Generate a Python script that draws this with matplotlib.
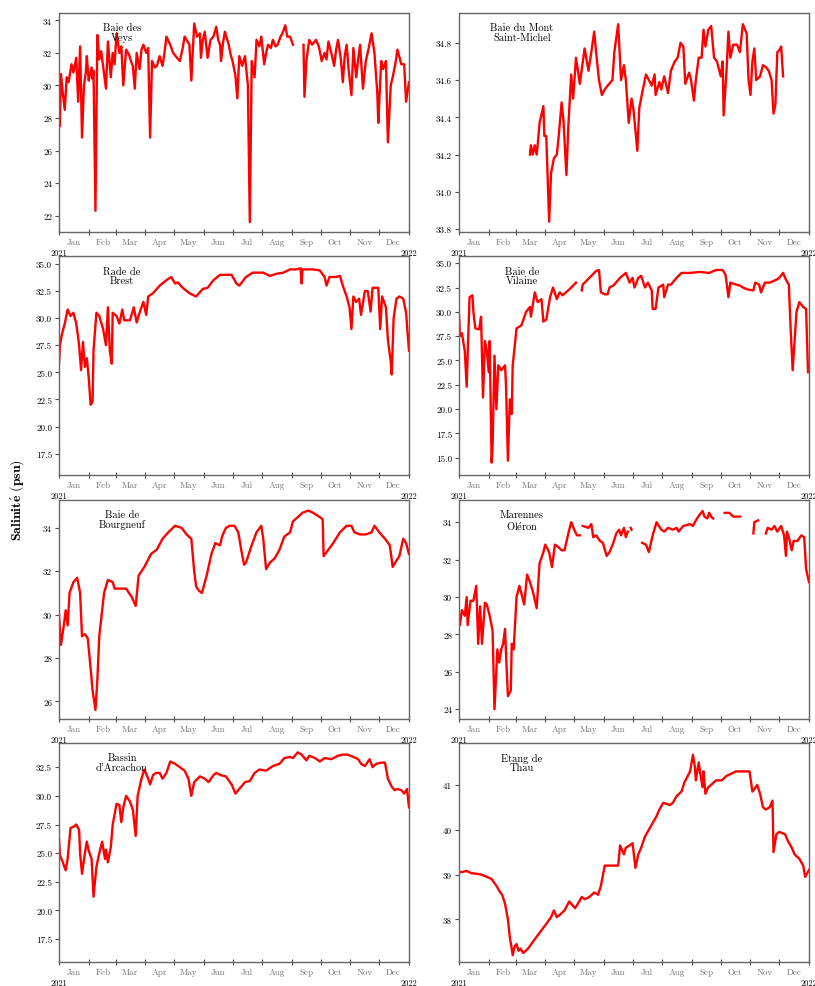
import numpy as np
import matplotlib
matplotlib.use("Agg")
import matplotlib.pyplot as plt
import matplotlib.dates as mdates
from matplotlib.ticker import MultipleLocator, FormatStrFormatter, FuncFormatter

plt.rcParams["font.family"] = ["cmr10", "DejaVu Serif"]
plt.rcParams["mathtext.fontset"] = "cm"
plt.rcParams["axes.formatter.use_mathtext"] = True

nan = np.nan

# (jour de l'annee depuis le 1er janvier 2021, salinite en psu)
veys = [(0, 29.5), (1, 27.5), (2, 30.7), (4, 29.5), (6, 28.5), (8, 30.5), (10, 30.2), (13, 31.3), (15, 30.8),
        (18, 31.7), (20, 29.0), (22, 32.4), (24, 26.8), (26, 30.0), (28, 30.8), (29, 31.8), (31, 30.3),
        (32, 30.6), (34, 31.1), (35, 30.4), (36, 30.9), (38, 22.3), (40, 33.1), (42, 31.6), (44, 32.1),
        (46, 31.2), (49, 29.8), (51, 32.7), (54, 30.5), (56, 32.0), (58, 31.3), (60, 33.2), (63, 32.0),
        (65, 32.4), (67, 30.0), (70, 32.2), (73, 31.9), (75, 31.5), (77, 31.2), (79, 29.8), (81, 32.0),
        (84, 31.0), (86, 32.2), (88, 32.5), (91, 32.0), (93, 32.3), (95, 26.8), (97, 31.5), (100, 31.1),
        (102, 31.2), (105, 31.8), (108, 31.2), (110, 32.0), (112, 33.0), (116, 32.5), (119, 32.0),
        (123, 31.7), (126, 31.5), (129, 32.3), (131, 33.0), (134, 32.7), (136, 32.5), (138, 30.3),
        (141, 33.8), (144, 33.0), (147, 33.2), (148, 31.7), (150, 32.8), (152, 33.3), (155, 31.7),
        (158, 32.8), (161, 33.0), (164, 33.6), (166, 32.8), (168, 32.5), (169, 31.5), (171, 32.6),
        (173, 33.3), (177, 32.5), (179, 31.9), (181, 31.5), (184, 30.6), (186, 29.2), (188, 31.8),
        (191, 31.2), (194, 31.8), (197, 30.0), (199, 21.6), (201, 31.5), (204, 30.5), (206, 32.8),
        (209, 32.4), (211, 33.0), (214, 31.3), (216, 32.0), (218, 32.5), (221, 32.3), (223, 32.8),
        (226, 32.4), (228, 32.5), (231, 33.0), (233, 33.2), (236, 33.7), (238, 33.0), (241, 33.0),
        (244, 32.5), (245, nan), (255, 32.5), (256, 29.3), (258, 31.5), (261, 32.8), (264, 32.5),
        (268, 32.8), (271, 32.4), (274, 31.5), (277, 32.0), (279, 31.6), (281, 32.7), (284, 32.0),
        (287, 31.2), (289, 32.2), (291, 32.8), (294, 31.6), (296, 30.2), (298, 31.8), (300, 32.5),
        (302, 31.0), (305, 29.4), (307, 32.3), (310, 30.5), (312, 31.6), (314, 32.5), (317, 29.8),
        (320, 31.5), (323, 32.3), (326, 33.2), (329, 32.0), (332, 29.5), (333, 27.7), (336, 31.5),
        (338, 31.0), (341, 31.5), (343, 26.5), (346, 30.0), (348, 30.5), (351, 31.4), (353, 32.2),
        (357, 31.3), (360, 31.3), (362, 29.0), (365, 30.2)]

mont_st_michel = [(74, 34.20), (75, 34.25), (77, 34.20), (79, 34.25), (81, 34.20), (82, 34.25), (84, 34.37),
                  (88, 34.46), (89, 34.30), (91, 34.30), (94, 33.84), (96, 34.10), (99, 34.18), (102, 34.20),
                  (104, 34.30), (107, 34.48), (109, 34.38), (112, 34.09), (114, 34.35), (117, 34.63),
                  (119, 34.50), (122, 34.72), (126, 34.58), (131, 34.77), (135, 34.65), (138, 34.75),
                  (141, 34.86), (143, 34.75), (146, 34.60), (149, 34.52), (152, 34.55), (155, 34.57),
                  (160, 34.60), (162, 34.75), (166, 34.90), (169, 34.60), (172, 34.68), (174, 34.60),
                  (177, 34.37), (180, 34.50), (182, 34.44), (186, 34.22), (188, 34.45), (191, 34.53),
                  (195, 34.63), (198, 34.60), (201, 34.57), (204, 34.63), (205, 34.52), (209, 34.59),
                  (211, 34.55), (214, 34.62), (218, 34.53), (221, 34.65), (225, 34.70), (228, 34.72),
                  (231, 34.80), (234, 34.78), (236, 34.58), (240, 34.64), (242, 34.60), (245, 34.49),
                  (247, 34.60), (250, 34.72), (253, 34.72), (255, 34.87), (257, 34.78), (260, 34.87),
                  (263, 34.89), (266, 34.72), (269, 34.70), (273, 34.62), (275, 34.70), (276, 34.41),
                  (279, 34.65), (281, 34.86), (283, 34.72), (286, 34.79), (290, 34.79), (293, 34.75),
                  (296, 34.90), (300, 34.85), (302, 34.60), (304, 34.52), (306, 34.70), (308, 34.77),
                  (310, 34.60), (314, 34.62), (317, 34.68), (320, 34.67), (323, 34.65), (326, 34.60),
                  (328, 34.42), (330, 34.47), (332, 34.75), (334, 34.76), (336, 34.78), (338, 34.62)]

brest = [(0, 25.8), (1, 27.5), (3, 28.5), (6, 29.5), (9, 30.8), (12, 30.2), (15, 30.5), (18, 29.5), (21, 27.5),
         (23, 25.2), (25, 27.8), (27, 25.5), (29, 26.3), (31, 24.5), (33, 22.0), (35, 22.3), (36, 27.0),
         (39, 30.5), (42, 30.2), (46, 29.0), (49, 27.5), (51, 31.0), (53, 27.0), (55, 25.8), (56, 30.5),
         (60, 30.2), (63, 29.5), (66, 30.8), (68, 29.8), (74, 29.8), (78, 31.0), (81, 29.6), (84, 30.5),
         (88, 31.5), (91, 30.3), (93, 32.0), (98, 32.3), (105, 33.0), (112, 33.5), (117, 33.8), (121, 33.2),
         (124, 33.3), (129, 32.8), (136, 32.3), (143, 32.0), (150, 32.7), (155, 32.8), (161, 33.5),
         (168, 34.0), (174, 34.0), (180, 34.0), (185, 33.2), (188, 33.0), (195, 33.8), (202, 34.2),
         (213, 34.2), (220, 33.9), (227, 34.1), (234, 34.2), (241, 34.5), (247, 34.5), (252, 34.6),
         (253, 33.2), (254, 34.5), (265, 34.5), (272, 34.4), (277, 33.8), (279, 33.0), (282, 33.8),
         (289, 33.8), (293, 33.9), (296, 33.0), (300, 32.0), (303, 31.0), (305, 29.0), (307, 32.0),
         (310, 31.5), (313, 31.8), (315, 30.3), (319, 32.5), (322, 32.5), (325, 30.6), (327, 32.8),
         (331, 32.8), (333, 32.8), (335, 29.0), (337, 32.0), (341, 31.0), (343, 28.0), (346, 26.0),
         (347, 24.8), (349, 30.0), (352, 31.8), (355, 32.0), (359, 31.8), (362, 30.5), (365, 27.0)]

vilaine = [(0, 29.7), (1, 27.5), (3, 27.8), (6, 26.0), (8, 22.3), (9, 25.5), (11, 31.5), (14, 31.7), (15, 30.0),
           (17, 28.3), (21, 28.2), (23, 29.5), (25, 21.2), (27, 27.0), (29, 26.0), (31, 23.8), (32, 27.0),
           (34, 14.5), (35, 16.0), (37, 25.5), (39, 20.0), (41, 24.5), (44, 24.0), (48, 24.5), (49, 22.5),
           (51, 14.7), (53, 21.0), (55, 19.5), (56, 24.5), (60, 28.3), (65, 28.6), (70, 30.0), (74, 30.5),
           (75, 29.5), (79, 32.0), (82, 31.0), (86, 31.3), (88, 29.0), (91, 29.2), (95, 31.5), (98, 32.5),
           (102, 31.3), (105, 32.0), (108, 31.7), (115, 32.3), (122, 33.0), (125, nan), (128, 32.2),
           (129, 32.8), (136, 33.5), (143, 34.2), (146, 34.3), (148, 32.0), (152, 31.8), (155, 31.8),
           (157, 32.5), (161, 32.7), (168, 33.5), (174, 34.0), (178, 33.0), (181, 33.5), (183, 32.5),
           (187, 33.5), (190, 33.7), (194, 32.5), (197, 33.0), (201, 32.2), (202, 30.3), (205, 30.3),
           (208, 32.5), (213, 32.8), (214, 31.5), (218, 32.8), (221, 32.8), (227, 33.5), (232, 34.0),
           (241, 34.0), (251, 34.1), (261, 34.0), (268, 34.3), (275, 34.3), (278, 33.8), (281, 31.5),
           (283, 33.0), (289, 32.8), (293, 32.7), (296, 32.5), (301, 32.3), (307, 32.2), (309, 33.0),
           (313, 32.8), (315, 32.0), (319, 33.0), (324, 33.0), (331, 33.3), (334, 33.5), (338, 34.0),
           (341, 33.3), (344, 32.8), (346, 28.0), (348, 24.0), (350, 27.0), (352, 30.0), (355, 31.0),
           (359, 30.5), (362, 30.3), (364, 23.8)]

bourgneuf = [(0, 30.0), (2, 28.6), (5, 29.5), (7, 30.2), (9, 29.5), (11, 31.0), (15, 31.5), (19, 31.7),
             (22, 31.0), (24, 29.0), (27, 29.1), (30, 28.9), (33, 27.5), (35, 26.5), (38, 25.6), (40, 27.0),
             (42, 29.0), (47, 31.0), (51, 31.6), (56, 31.5), (58, 31.2), (63, 31.2), (70, 31.2), (76, 30.8),
             (80, 30.4), (83, 31.8), (89, 32.2), (96, 32.8), (102, 33.0), (108, 33.5), (114, 33.8),
             (121, 34.1), (128, 34.0), (133, 33.7), (138, 33.5), (141, 32.0), (143, 31.3), (146, 31.1),
             (149, 31.0), (154, 31.8), (159, 32.8), (163, 33.3), (168, 33.2), (170, 33.6), (174, 34.0),
             (178, 34.1), (183, 34.1), (187, 33.8), (190, 33.0), (193, 32.3), (195, 32.4), (201, 33.2),
             (206, 33.8), (211, 34.1), (213, 33.5), (216, 32.1), (220, 32.4), (225, 32.6), (230, 33.0),
             (235, 33.6), (241, 33.8), (244, 34.3), (249, 34.5), (254, 34.7), (260, 34.8), (265, 34.7),
             (272, 34.5), (275, 34.4), (276, 32.7), (281, 33.0), (286, 33.3), (293, 33.8), (300, 34.1),
             (305, 34.1), (308, 33.8), (314, 33.7), (320, 33.7), (326, 33.8), (329, 34.1), (334, 33.8),
             (340, 33.5), (345, 33.2), (348, 32.2), (352, 32.5), (355, 32.7), (359, 33.5), (362, 33.3),
             (365, 32.8)]

marennes = [(0, 28.7), (1, 28.5), (3, 29.3), (6, 29.0), (8, 30.0), (9, 28.5), (12, 29.8), (15, 29.8),
            (18, 30.6), (20, 27.5), (22, 29.5), (24, 27.5), (27, 29.7), (29, 29.6), (32, 29.0), (35, 28.2),
            (37, 24.0), (40, 27.2), (42, 26.5), (44, 27.2), (46, 27.5), (48, 28.3), (49, 27.0), (51, 24.7),
            (54, 25.0), (55, 27.5), (57, 27.2), (60, 30.0), (63, 30.6), (66, 30.0), (68, 29.6), (71, 31.2),
            (74, 30.8), (77, 30.3), (81, 29.4), (84, 31.8), (88, 32.4), (90, 32.8), (94, 32.4), (97, 31.6),
            (100, 32.8), (103, 32.7), (107, 32.5), (110, 32.5), (114, 33.4), (117, 34.0), (121, 33.5),
            (123, 33.3), (126, 33.3), (127, nan), (129, 33.8), (135, 33.7), (138, 33.9), (140, 33.2),
            (143, 33.3), (147, 33.0), (150, 32.9), (154, 32.2), (157, 32.4), (161, 32.9), (164, 33.4),
            (167, 33.6), (169, 33.3), (172, 33.7), (174, 33.2), (176, 33.5), (177, nan), (179, 33.7),
            (180, 33.6), (181, nan), (191, 32.9), (195, 32.8), (198, 32.4), (202, 33.3), (206, 34.0),
            (211, 33.6), (214, 33.5), (218, 33.7), (223, 33.6), (227, 33.7), (229, 33.5), (234, 33.8),
            (241, 33.9), (244, 33.8), (247, 34.1), (251, 34.4), (254, 34.6), (256, 34.3), (259, 34.2),
            (261, 34.5), (263, 34.3), (265, 34.2), (268, nan), (277, 34.5), (282, 34.5), (286, 34.3),
            (293, 34.3), (300, nan), (307, 33.4), (308, 34.0), (312, 34.1), (315, nan), (320, 33.4),
            (322, 33.7), (326, 33.6), (329, 33.8), (332, 33.5), (336, 33.8), (339, 33.3), (341, 32.2),
            (342, 33.5), (344, 33.2), (347, 32.5), (349, 33.0), (353, 33.0), (357, 33.3), (360, 33.2),
            (362, 31.5), (365, 30.8)]

arcachon = [(0, 26.2), (1, 24.8), (4, 24.2), (7, 23.5), (9, 24.5), (12, 27.2), (15, 27.3), (18, 27.5),
            (21, 27.0), (22, 25.0), (24, 23.2), (27, 25.0), (29, 26.0), (31, 25.2), (34, 24.5), (36, 21.2),
            (39, 23.8), (42, 25.0), (45, 26.0), (48, 24.5), (49, 25.3), (51, 24.2), (54, 25.5), (56, 27.5),
            (60, 29.3), (63, 29.2), (65, 27.7), (67, 29.0), (70, 30.0), (74, 29.5), (77, 28.8), (80, 26.5),
            (82, 30.0), (86, 31.5), (89, 32.3), (93, 31.5), (95, 31.0), (98, 31.8), (101, 32.0), (105, 32.0),
            (108, 31.5), (112, 32.0), (116, 33.0), (121, 32.8), (126, 32.5), (131, 32.2), (135, 31.5),
            (138, 30.0), (141, 31.2), (147, 31.7), (152, 31.5), (156, 31.2), (161, 31.8), (164, 32.0),
            (169, 31.8), (174, 31.7), (180, 31.0), (184, 30.2), (188, 30.6), (194, 31.2), (199, 31.3),
            (204, 32.0), (209, 32.3), (216, 32.2), (223, 32.6), (230, 32.8), (235, 33.3), (241, 33.4),
            (244, 33.3), (249, 33.8), (253, 33.6), (256, 33.3), (258, 33.1), (261, 33.5), (267, 33.3),
            (272, 33.0), (277, 33.3), (284, 33.2), (291, 33.5), (296, 33.6), (301, 33.6), (307, 33.4),
            (312, 33.2), (315, 32.8), (319, 32.6), (324, 33.2), (327, 32.5), (331, 32.8), (336, 32.9),
            (340, 32.9), (343, 31.5), (347, 30.8), (350, 30.5), (353, 30.6), (357, 30.5), (360, 30.2),
            (363, 30.6), (365, 29.0)]

thau = [(0, 39.05), (4, 39.06), (8, 39.08), (13, 39.03), (18, 39.02), (23, 39.00), (29, 38.95), (34, 38.90),
        (39, 38.75), (43, 38.60), (45, 38.55), (48, 38.35), (51, 38.00), (53, 37.60), (55, 37.35),
        (56, 37.20), (58, 37.40), (60, 37.45), (62, 37.30), (64, 37.35), (67, 37.25), (72, 37.35),
        (77, 37.50), (84, 37.70), (91, 37.90), (96, 38.05), (99, 38.20), (102, 38.05), (105, 38.10),
        (110, 38.20), (115, 38.40), (117, 38.35), (121, 38.25), (124, 38.35), (128, 38.50), (131, 38.45),
        (136, 38.50), (141, 38.60), (145, 38.55), (148, 38.75), (152, 39.20), (155, 39.20), (161, 39.20),
        (166, 39.20), (168, 39.65), (172, 39.45), (174, 39.60), (178, 39.65), (181, 39.70), (184, 39.15),
        (187, 39.45), (190, 39.60), (194, 39.85), (198, 40.00), (202, 40.15), (206, 40.30), (209, 40.45),
        (213, 40.60), (216, 40.58), (220, 40.55), (223, 40.60), (227, 40.75), (232, 40.85), (235, 41.05),
        (241, 41.30), (244, 41.67), (246, 41.40), (247, 41.10), (250, 41.50), (252, 41.20), (254, 40.95),
        (255, 41.30), (257, 40.80), (260, 40.95), (263, 41.00), (268, 41.10), (274, 41.10), (279, 41.20),
        (284, 41.25), (289, 41.30), (294, 41.30), (300, 41.30), (303, 41.30), (306, 40.85), (308, 40.90),
        (311, 41.00), (314, 40.80), (317, 40.50), (320, 40.45), (324, 40.50), (327, 40.65), (328, 39.50),
        (331, 39.90), (334, 39.95), (340, 39.90), (343, 39.75), (347, 39.60), (350, 39.45), (355, 39.35),
        (359, 39.20), (361, 38.95), (365, 39.10)]

noms = ["Baie des\nVeys", "Baie du Mont\nSaint-Michel", "Rade de\nBrest", "Baie de\nVilaine",
        "Baie de\nBourgneuf", "Marennes\nOl$\\acute{\\mathrm{e}}$ron", "Bassin\nd'Arcachon", "Etang de\nThau"]
series = [veys, mont_st_michel, brest, vilaine, bourgneuf, marennes, arcachon, thau]
ylims = [(21.0, 34.45), (33.785, 34.96), (15.5, 35.7), (13.2, 35.7),
         (25.2, 35.3), (23.5, 35.2), (15.5, 34.6), (37.05, 41.93)]
ypas = [2, 0.2, 2.5, 2.5, 2, 2, 2.5, 1]
yfmt = ["%d", "%.1f", "%.1f", "%.1f", "%d", "%d", "%.1f", "%d"]

debut = np.datetime64("2021-01-01")
fin = np.datetime64("2022-01-01")

fig, axes = plt.subplots(4, 2, figsize=(8.15, 9.87), dpi=100)
fig.subplots_adjust(left=0.0724, right=0.9926, bottom=0.0243, top=0.9858,
                    wspace=0.143, hspace=0.112)


def annee(x, pos):
    d = mdates.num2date(x)
    return str(d.year) if d.month == 1 else ""


for ax, nom, serie, yl, pas, fmt in zip(axes.flat, noms, series, ylims, ypas, yfmt):
    j = np.array([p[0] for p in serie])
    s = np.array([p[1] for p in serie], dtype=float)
    dates = debut + j.astype("timedelta64[D]")
    ax.plot(dates, s, color="#ff0000", lw=1.7)
    ax.set_xlim(debut, fin)
    ax.set_ylim(*yl)
    ax.yaxis.set_major_locator(MultipleLocator(pas))
    ax.yaxis.set_major_formatter(FormatStrFormatter(fmt))
    ax.xaxis.set_major_locator(mdates.MonthLocator())
    ax.xaxis.set_major_formatter(FuncFormatter(annee))
    ax.xaxis.set_minor_locator(mdates.MonthLocator(bymonthday=16))
    ax.xaxis.set_minor_formatter(mdates.DateFormatter("%b"))
    ax.tick_params(axis="x", which="major", direction="inout", length=4, width=0.8,
                   color="0.3", labelsize=6, pad=10)
    ax.tick_params(axis="x", which="minor", length=0, labelsize=6.5,
                   labelcolor="0.45", pad=4)
    ax.tick_params(axis="y", direction="out", length=3, width=0.8, color="0.3",
                   labelsize=6.5, pad=2)
    for sp in ax.spines.values():
        sp.set_color("0.4")
        sp.set_linewidth(1.0)
    ax.text(0.18, 0.955, nom, transform=ax.transAxes, ha="center", va="top",
            fontsize=7.5, linespacing=1.0, multialignment="center")

fig.text(0.021, 0.493, r"$\mathbf{Salinit\acute{e}\ (psu)}$", rotation=90, ha="center",
         va="center", fontsize=10)

fig.savefig("out.png", dpi=100)
